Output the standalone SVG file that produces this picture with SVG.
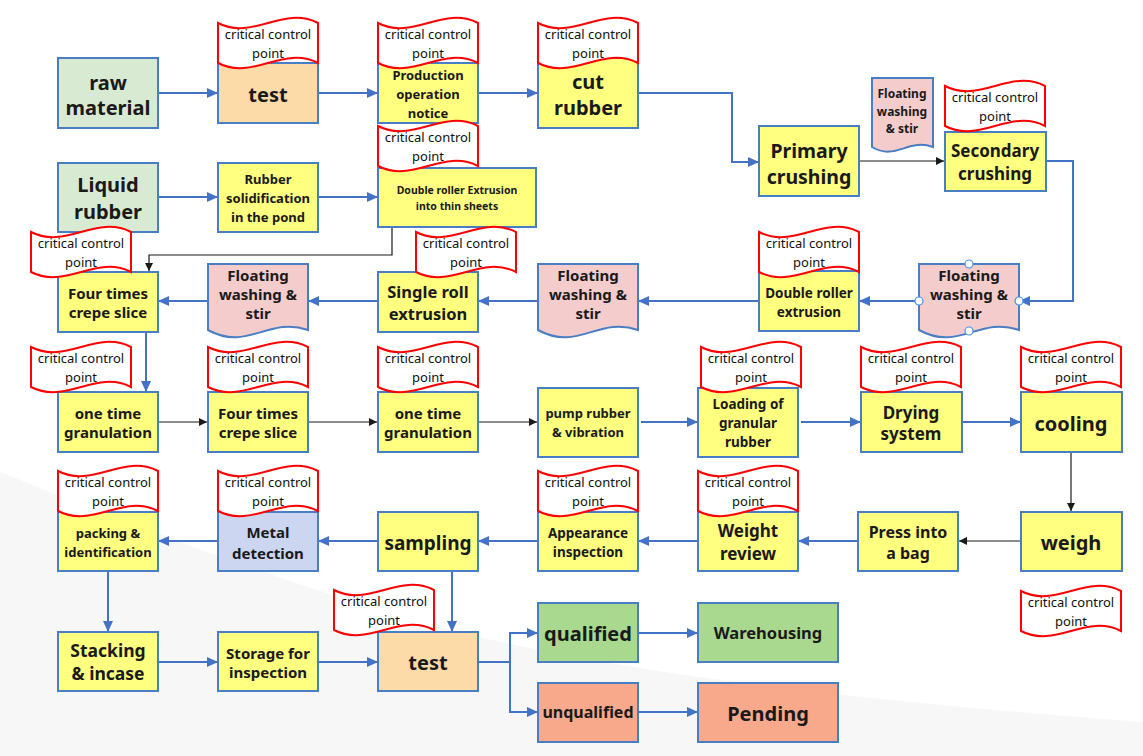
<svg xmlns="http://www.w3.org/2000/svg" xmlns:xlink="http://www.w3.org/1999/xlink" width="1143" height="756" viewBox="0 0 1143 756">
<style>
.bx{stroke:#4A7EC4;stroke-width:2}
.y{fill:#FFFF80}
.g{fill:#D9EAD3}
.o{fill:#FDDBA8}
.p{fill:#F4CCCC}
.b{fill:#CDD6F0}
.q{fill:#A9D98F}
.r{fill:#F9A98B}
.ccp{fill:#FFFFFF;stroke:#FF0000;stroke-width:2}
.t{font-family:'Noto Sans','Open Sans','DejaVu Sans',sans-serif;font-weight:bold;fill:#1A1A1A;text-anchor:middle;dominant-baseline:central}
.c{font-family:'Noto Sans','Open Sans','DejaVu Sans',sans-serif;font-size:13px;fill:#111;text-anchor:middle;dominant-baseline:central}
.cb{fill:none;stroke:#4472C4;stroke-width:2;marker-end:url(#ab)}
.ck{fill:none;stroke:#1A1A1A;stroke-width:1.2;marker-end:url(#ak)}
.h{fill:#FFFFFF;stroke:#4A90E2;stroke-width:1.2}
.bg{fill:#F7F7F7}
</style>
<defs>
<marker id="ab" markerWidth="11" markerHeight="10" refX="10" refY="5" orient="auto" markerUnits="userSpaceOnUse"><path d="M0,0 L11,5 L0,10 Z" fill="#4472C4"/></marker>
<marker id="ak" markerWidth="8" markerHeight="8" refX="8" refY="4" orient="auto" markerUnits="userSpaceOnUse"><path d="M0,0 L8,4 L0,8 Z" fill="#1A1A1A"/></marker>
<path id="tape" d="M0,0 C35,18 65,-18 100,0 V40 C65,22 35,58 0,40 Z"/>
</defs>
<rect width="1143" height="756" fill="#FFFFFF"/>
<g id="background">
<path class="bg" d="M0,472 C120,520 260,575 420,622 C600,672 850,700 1143,722 V756 H0 Z"/>
</g>
<g id="connectors">
<path class="cb" d="M158,93 H217"/>
<path class="cb" d="M318,93 H377"/>
<path class="cb" d="M478,93 H537"/>
<path class="cb" d="M638,93 H732 V162 H758"/>
<path class="cb" d="M158,197 H217"/>
<path class="cb" d="M318,197 H377"/>
<path class="ck" d="M392,227 V255 H149 V271"/>
<path class="ck" d="M859,161 H944"/>
<path class="cb" d="M1046,161 H1073 V301 H1020"/>
<path class="cb" d="M919,301 H860"/>
<path class="cb" d="M759,301 H639"/>
<path class="cb" d="M538,301 H479"/>
<path class="cb" d="M378,301 H309"/>
<path class="cb" d="M208,301 H159"/>
<path class="cb" d="M146,332 V391"/>
<path class="ck" d="M158,422 H207"/>
<path class="ck" d="M308,422 H377"/>
<path class="ck" d="M478,422 H537"/>
<path class="cb" d="M641,422 H697"/>
<path class="cb" d="M801,422 H860"/>
<path class="cb" d="M962,422 H1020"/>
<path class="ck" d="M1071,452 V511"/>
<path class="ck" d="M1021,541 H959"/>
<path class="cb" d="M858,541 H799"/>
<path class="cb" d="M698,541 H639"/>
<path class="cb" d="M538,541 H479"/>
<path class="cb" d="M378,541 H319"/>
<path class="cb" d="M218,541 H159"/>
<path class="cb" d="M108,571 V631"/>
<path class="cb" d="M158,662 H217"/>
<path class="cb" d="M318,662 H377"/>
<path class="cb" d="M452,571 V631"/>
<path class="cb" d="M478,662 H510 V633 H537"/>
<path class="cb" d="M510,662 V712 H537"/>
<path class="cb" d="M638,633 H697"/>
<path class="cb" d="M638,712 H697"/>
</g>
<g id="raw-material"><rect class="bx g" x="58" y="58" width="100" height="70"/><text class="t" font-size="20" x="108" y="82">raw</text><text class="t" font-size="20" x="108" y="107">material</text></g>
<g id="test-1"><rect class="bx o" x="218" y="63" width="100" height="60"/><text class="t" font-size="20" x="268" y="94">test</text></g>
<g id="production-notice"><rect class="bx y" x="378" y="63" width="100" height="60"/><text class="t" font-size="13" x="428" y="75">Production</text><text class="t" font-size="13" x="428" y="94">operation</text><text class="t" font-size="13" x="428" y="113">notice</text></g>
<g id="cut-rubber"><rect class="bx y" x="538" y="58" width="100" height="70"/><text class="t" font-size="20" x="588" y="81">cut</text><text class="t" font-size="20" x="588" y="107">rubber</text></g>
<g id="liquid-rubber"><rect class="bx g" x="58" y="163" width="100" height="69"/><text class="t" font-size="20" x="108" y="184">Liquid</text><text class="t" font-size="20" x="108" y="211">rubber</text></g>
<g id="rubber-solidification"><rect class="bx y" x="218" y="163" width="100" height="69"/><text class="t" font-size="13" x="268" y="179">Rubber</text><text class="t" font-size="13" x="268" y="198">solidification</text><text class="t" font-size="13" x="268" y="217">in the pond</text></g>
<g id="double-roller-thin"><rect class="bx y" x="378" y="168" width="158" height="59"/><text class="t" font-size="10.5" x="457" y="190">Double roller Extrusion</text><text class="t" font-size="10.5" x="457" y="206">into thin sheets</text></g>
<g id="primary-crushing"><rect class="bx y" x="759" y="126" width="100" height="70"/><text class="t" font-size="19.5" x="809" y="150">Primary</text><text class="t" font-size="19.5" x="809" y="176">crushing</text></g>
<g id="floating-small"><path class="bx p" d="M872,78 H933 V147 C908,138 896,161 872,147 Z"/><text class="t" font-size="12" x="902" y="93">Floating</text><text class="t" font-size="12" x="902" y="111">washing</text><text class="t" font-size="12" x="902" y="128">&amp; stir</text></g>
<g id="secondary-crushing"><rect class="bx y" x="945" y="132" width="101" height="59"/><text class="t" font-size="17" x="995" y="150">Secondary</text><text class="t" font-size="17" x="995" y="173">crushing</text></g>
<g id="floating-right"><path class="bx p" d="M919,264 H1019 V330 C979,316 959,352 919,330 Z"/><text class="t" font-size="15" x="969" y="275">Floating</text><text class="t" font-size="15" x="969" y="294">washing &amp;</text><text class="t" font-size="15" x="969" y="313">stir</text><circle class="h" cx="969" cy="264" r="4"/><circle class="h" cx="919" cy="301" r="4"/><circle class="h" cx="1019" cy="301" r="4"/><circle class="h" cx="969" cy="331" r="4"/></g>
<g id="double-roller-extrusion"><rect class="bx y" x="759" y="271" width="100" height="60"/><text class="t" font-size="13.5" x="809" y="293">Double roller</text><text class="t" font-size="13.5" x="809" y="312">extrusion</text></g>
<g id="floating-mid"><path class="bx p" d="M538,264 H638 V330 C598,316 578,352 538,330 Z"/><text class="t" font-size="15" x="588" y="275">Floating</text><text class="t" font-size="15" x="588" y="294">washing &amp;</text><text class="t" font-size="15" x="588" y="313">stir</text></g>
<g id="single-roll"><rect class="bx y" x="378" y="272" width="100" height="60"/><text class="t" font-size="16.5" x="428" y="291">Single roll</text><text class="t" font-size="16.5" x="428" y="313">extrusion</text></g>
<g id="floating-left"><path class="bx p" d="M208,264 H308 V330 C268,316 248,352 208,330 Z"/><text class="t" font-size="15" x="258" y="275">Floating</text><text class="t" font-size="15" x="258" y="294">washing &amp;</text><text class="t" font-size="15" x="258" y="313">stir</text></g>
<g id="four-times-1"><rect class="bx y" x="58" y="272" width="100" height="60"/><text class="t" font-size="15" x="108" y="293">Four times</text><text class="t" font-size="15" x="108" y="312">crepe slice</text></g>
<g id="one-time-1"><rect class="bx y" x="58" y="392" width="100" height="60"/><text class="t" font-size="15" x="108" y="413">one time</text><text class="t" font-size="15" x="108" y="432">granulation</text></g>
<g id="four-times-2"><rect class="bx y" x="208" y="392" width="100" height="60"/><text class="t" font-size="15" x="258" y="413">Four times</text><text class="t" font-size="15" x="258" y="432">crepe slice</text></g>
<g id="one-time-2"><rect class="bx y" x="378" y="392" width="100" height="60"/><text class="t" font-size="15" x="428" y="413">one time</text><text class="t" font-size="15" x="428" y="432">granulation</text></g>
<g id="pump-rubber"><rect class="bx y" x="538" y="388" width="100" height="69"/><text class="t" font-size="13" x="588" y="413">pump rubber</text><text class="t" font-size="13" x="588" y="432">&amp; vibration</text></g>
<g id="loading"><rect class="bx y" x="698" y="388" width="100" height="69"/><text class="t" font-size="13.5" x="748" y="404">Loading of</text><text class="t" font-size="13.5" x="748" y="423">granular</text><text class="t" font-size="13.5" x="748" y="442">rubber</text></g>
<g id="drying"><rect class="bx y" x="861" y="392" width="101" height="60"/><text class="t" font-size="17" x="911" y="412">Drying</text><text class="t" font-size="17" x="911" y="433">system</text></g>
<g id="cooling"><rect class="bx y" x="1021" y="392" width="101" height="60"/><text class="t" font-size="20" x="1071" y="423">cooling</text></g>
<g id="weigh"><rect class="bx y" x="1021" y="512" width="101" height="59"/><text class="t" font-size="20" x="1071" y="542">weigh</text></g>
<g id="press-bag"><rect class="bx y" x="858" y="512" width="100" height="59"/><text class="t" font-size="16" x="908" y="532">Press into</text><text class="t" font-size="16" x="908" y="553">a bag</text></g>
<g id="weight-review"><rect class="bx y" x="698" y="512" width="100" height="59"/><text class="t" font-size="17" x="748" y="530">Weight</text><text class="t" font-size="17" x="748" y="553">review</text></g>
<g id="appearance"><rect class="bx y" x="538" y="512" width="100" height="59"/><text class="t" font-size="13.5" x="588" y="533">Appearance</text><text class="t" font-size="13.5" x="588" y="552">inspection</text></g>
<g id="sampling"><rect class="bx y" x="378" y="512" width="100" height="59"/><text class="t" font-size="19" x="428" y="543">sampling</text></g>
<g id="metal-detection"><rect class="bx b" x="218" y="512" width="100" height="59"/><text class="t" font-size="15" x="268" y="532">Metal</text><text class="t" font-size="15" x="268" y="553">detection</text></g>
<g id="packing"><rect class="bx y" x="58" y="512" width="100" height="59"/><text class="t" font-size="13" x="108" y="533">packing &amp;</text><text class="t" font-size="13" x="108" y="552">identification</text></g>
<g id="stacking"><rect class="bx y" x="58" y="632" width="100" height="59"/><text class="t" font-size="17.5" x="108" y="650">Stacking</text><text class="t" font-size="17.5" x="108" y="673">&amp; incase</text></g>
<g id="storage"><rect class="bx y" x="218" y="632" width="100" height="59"/><text class="t" font-size="15" x="268" y="653">Storage for</text><text class="t" font-size="15" x="268" y="672">inspection</text></g>
<g id="test-2"><rect class="bx o" x="378" y="632" width="100" height="59"/><text class="t" font-size="20" x="428" y="662">test</text></g>
<g id="qualified"><rect class="bx q" x="538" y="603" width="100" height="59"/><text class="t" font-size="20" x="588" y="633">qualified</text></g>
<g id="unqualified"><rect class="bx r" x="538" y="683" width="100" height="59"/><text class="t" font-size="16" x="588" y="712">unqualified</text></g>
<g id="warehousing"><rect class="bx q" x="698" y="603" width="140" height="59"/><text class="t" font-size="16.5" x="768" y="632">Warehousing</text></g>
<g id="pending"><rect class="bx r" x="698" y="683" width="140" height="59"/><text class="t" font-size="20" x="768" y="713">Pending</text></g>
<g id="ccp-test-1"><use xlink:href="#tape" class="ccp" x="218" y="23"/><text class="c" x="268" y="34">critical control</text><text class="c" x="268" y="53">point</text></g>
<g id="ccp-production"><use xlink:href="#tape" class="ccp" x="378" y="23"/><text class="c" x="428" y="34">critical control</text><text class="c" x="428" y="53">point</text></g>
<g id="ccp-cut"><use xlink:href="#tape" class="ccp" x="538" y="23"/><text class="c" x="588" y="34">critical control</text><text class="c" x="588" y="53">point</text></g>
<g id="ccp-thin"><use xlink:href="#tape" class="ccp" x="378" y="126"/><text class="c" x="428" y="137">critical control</text><text class="c" x="428" y="156">point</text></g>
<g id="ccp-secondary"><use xlink:href="#tape" class="ccp" x="945" y="86"/><text class="c" x="995" y="97">critical control</text><text class="c" x="995" y="116">point</text></g>
<g id="ccp-four-1"><use xlink:href="#tape" class="ccp" x="31" y="232"/><text class="c" x="81" y="243">critical control</text><text class="c" x="81" y="262">point</text></g>
<g id="ccp-single"><use xlink:href="#tape" class="ccp" x="416" y="232"/><text class="c" x="466" y="243">critical control</text><text class="c" x="466" y="262">point</text></g>
<g id="ccp-double"><use xlink:href="#tape" class="ccp" x="759" y="232"/><text class="c" x="809" y="243">critical control</text><text class="c" x="809" y="262">point</text></g>
<g id="ccp-one-1"><use xlink:href="#tape" class="ccp" x="31" y="347"/><text class="c" x="81" y="358">critical control</text><text class="c" x="81" y="377">point</text></g>
<g id="ccp-four-2"><use xlink:href="#tape" class="ccp" x="208" y="347"/><text class="c" x="258" y="358">critical control</text><text class="c" x="258" y="377">point</text></g>
<g id="ccp-one-2"><use xlink:href="#tape" class="ccp" x="378" y="347"/><text class="c" x="428" y="358">critical control</text><text class="c" x="428" y="377">point</text></g>
<g id="ccp-loading"><use xlink:href="#tape" class="ccp" x="701" y="347"/><text class="c" x="751" y="358">critical control</text><text class="c" x="751" y="377">point</text></g>
<g id="ccp-drying"><use xlink:href="#tape" class="ccp" x="861" y="347"/><text class="c" x="911" y="358">critical control</text><text class="c" x="911" y="377">point</text></g>
<g id="ccp-cooling"><use xlink:href="#tape" class="ccp" x="1021" y="347"/><text class="c" x="1071" y="358">critical control</text><text class="c" x="1071" y="377">point</text></g>
<g id="ccp-packing"><use xlink:href="#tape" class="ccp" x="58" y="471"/><text class="c" x="108" y="482">critical control</text><text class="c" x="108" y="501">point</text></g>
<g id="ccp-metal"><use xlink:href="#tape" class="ccp" x="218" y="471"/><text class="c" x="268" y="482">critical control</text><text class="c" x="268" y="501">point</text></g>
<g id="ccp-appearance"><use xlink:href="#tape" class="ccp" x="538" y="471"/><text class="c" x="588" y="482">critical control</text><text class="c" x="588" y="501">point</text></g>
<g id="ccp-weight"><use xlink:href="#tape" class="ccp" x="698" y="471"/><text class="c" x="748" y="482">critical control</text><text class="c" x="748" y="501">point</text></g>
<g id="ccp-weigh"><use xlink:href="#tape" class="ccp" x="1021" y="591"/><text class="c" x="1071" y="602">critical control</text><text class="c" x="1071" y="621">point</text></g>
<g id="ccp-test-2"><use xlink:href="#tape" class="ccp" x="334" y="590"/><text class="c" x="384" y="601">critical control</text><text class="c" x="384" y="620">point</text></g>
</svg>
